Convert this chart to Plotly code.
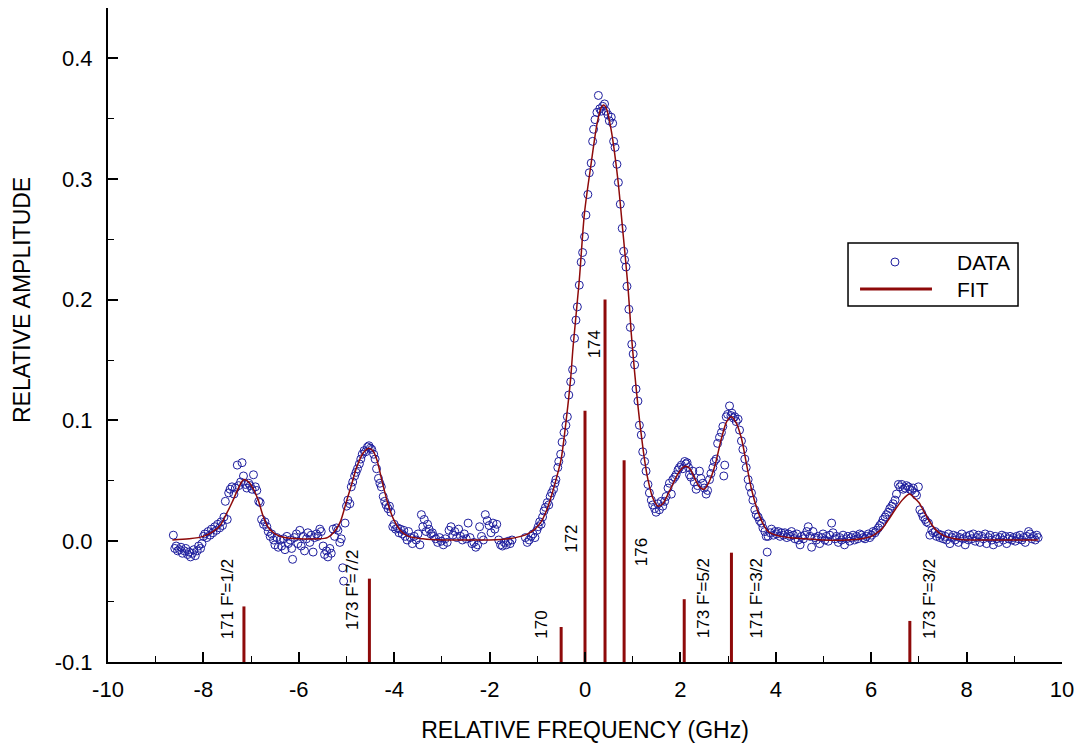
import plotly.graph_objects as go

# ---------------- data ----------------
data_freq = [
    -8.63, -8.60, -8.57, -8.54, -8.50, -8.47, -8.44, -8.40, -8.37, -8.33, -8.30, -8.27, -8.23, -8.20, -8.17, -8.13,
    -8.10, -8.06, -8.03, -8.00, -7.97, -7.93, -7.90, -7.86, -7.83, -7.80, -7.76, -7.73, -7.70, -7.66, -7.63, -7.60,
    -7.57, -7.54, -7.50, -7.47, -7.44, -7.40, -7.36, -7.33, -7.29, -7.26, -7.22, -7.19, -7.16, -7.12, -7.09, -7.05,
    -7.02, -6.98, -6.95, -6.91, -6.88, -6.84, -6.81, -6.78, -6.74, -6.71, -6.67, -6.64, -6.60, -6.57, -6.53, -6.50,
    -6.46, -6.43, -6.39, -6.36, -6.32, -6.29, -6.25, -6.22, -6.18, -6.15, -6.13, -6.09, -6.05, -6.02, -5.98, -5.95,
    -5.91, -5.88, -5.84, -5.81, -5.77, -5.74, -5.70, -5.67, -5.63, -5.60, -5.56, -5.53, -5.49, -5.46, -5.42, -5.39,
    -5.35, -5.32, -5.28, -5.25, -5.21, -5.18, -5.14, -5.11, -5.08, -5.06, -5.03, -5.00, -4.97, -4.93, -4.90, -4.87,
    -4.83, -4.80, -4.77, -4.73, -4.70, -4.67, -4.63, -4.60, -4.56, -4.53, -4.50, -4.47, -4.43, -4.40, -4.37, -4.33,
    -4.30, -4.27, -4.23, -4.20, -4.17, -4.13, -4.10, -4.07, -4.03, -4.00, -3.97, -3.93, -3.90, -3.87, -3.83, -3.80,
    -3.77, -3.73, -3.70, -3.66, -3.62, -3.58, -3.54, -3.50, -3.46, -3.43, -3.40, -3.37, -3.33, -3.30, -3.27, -3.23,
    -3.20, -3.17, -3.13, -3.09, -3.05, -3.01, -2.97, -2.93, -2.89, -2.85, -2.81, -2.77, -2.73, -2.69, -2.65, -2.61,
    -2.57, -2.53, -2.49, -2.45, -2.41, -2.37, -2.33, -2.29, -2.25, -2.21, -2.17, -2.13, -2.09, -2.05, -2.01, -1.97,
    -1.93, -1.89, -1.85, -1.81, -1.77, -1.73, -1.69, -1.65, -1.61, -1.57, -1.53,
    -1.25, -1.21, -1.17, -1.13, -1.09, -1.05, -1.01, -0.98, -0.95, -0.92, -0.89, -0.86, -0.83, -0.79, -0.76, -0.73,
    -0.70, -0.66, -0.63, -0.61, -0.57, -0.55, -0.51, -0.48, -0.44, -0.40, -0.37, -0.34, -0.30, -0.26, -0.22, -0.19,
    -0.16, -0.12, -0.08, -0.05, -0.01, 0.02, 0.06, 0.09, 0.13, 0.16, 0.18, 0.21, 0.25, 0.28, 0.31, 0.34,
    0.37, 0.41, 0.44, 0.48, 0.51, 0.55, 0.58, 0.60, 0.63, 0.67, 0.70, 0.74, 0.78, 0.81, 0.83, 0.86,
    0.88, 0.92, 0.95, 0.98, 1.01, 1.04, 1.07, 1.11, 1.14, 1.18, 1.21, 1.25, 1.28, 1.32, 1.35, 1.39,
    1.42, 1.46, 1.49, 1.53, 1.56, 1.60, 1.63, 1.67, 1.70, 1.74, 1.77, 1.81, 1.84, 1.88, 1.91, 1.95,
    1.98, 2.02, 2.05, 2.09, 2.12, 2.14, 2.17, 2.19, 2.22, 2.26, 2.29, 2.33, 2.36, 2.40, 2.43, 2.47,
    2.50, 2.54, 2.57, 2.61, 2.64, 2.68, 2.71, 2.75, 2.78, 2.82, 2.86, 2.89, 2.91, 2.93, 2.96, 2.99,
    3.03, 3.06, 3.08, 3.11, 3.14, 3.17, 3.21, 3.24, 3.28, 3.31, 3.35, 3.38, 3.42, 3.45, 3.49, 3.52,
    3.56, 3.59, 3.63, 3.66, 3.70, 3.73, 3.77, 3.80, 3.82, 3.84, 3.88, 3.91, 3.95, 3.98, 4.02, 4.05,
    4.09, 4.12, 4.16, 4.19, 4.23, 4.26, 4.30, 4.33, 4.37, 4.40, 4.44, 4.47, 4.51, 4.54, 4.58, 4.61,
    4.65, 4.68, 4.72, 4.75, 4.78, 4.82, 4.85, 4.89, 4.92, 4.96, 4.99, 5.03, 5.06, 5.10, 5.13, 5.17,
    5.20, 5.24, 5.27, 5.31, 5.34, 5.38, 5.41, 5.44, 5.48, 5.51, 5.55, 5.58, 5.62, 5.65, 5.69, 5.72,
    5.76, 5.80, 5.83, 5.87, 5.90, 5.94, 5.97, 6.01, 6.04, 6.08, 6.11, 6.15, 6.18, 6.22, 6.25, 6.29,
    6.32, 6.36, 6.39, 6.43, 6.46, 6.50, 6.53, 6.57, 6.60, 6.64, 6.67, 6.71, 6.74, 6.78, 6.81, 6.85,
    6.88, 6.92, 6.95, 6.99, 7.02, 7.06, 7.09, 7.13, 7.16, 7.20, 7.23, 7.27, 7.30, 7.34, 7.37, 7.41,
    7.44, 7.48, 7.51, 7.55, 7.58, 7.62, 7.65, 7.69, 7.72, 7.76, 7.79, 7.83, 7.86, 7.90, 7.93, 7.97,
    8.00, 8.04, 8.07, 8.11, 8.14, 8.18, 8.21, 8.25, 8.28, 8.32, 8.35, 8.39, 8.42, 8.46, 8.49, 8.53,
    8.56, 8.60, 8.63, 8.67, 8.70, 8.74, 8.77, 8.81, 8.84, 8.88, 8.91, 8.95, 8.98, 9.02, 9.05, 9.09,
    9.12, 9.16, 9.19, 9.23, 9.26, 9.30, 9.33, 9.37, 9.40, 9.44, 9.47, 9.50,
]
data_amp = [
    0.005, -0.006, -0.004, -0.008, -0.007, -0.005, -0.010, -0.008, -0.006, -0.011, -0.009, -0.013, -0.010, -0.007, -0.012, -0.008,
    -0.004, -0.006, -0.002, 0.004, 0.006, 0.003, 0.008, 0.005, 0.010, 0.007, 0.012, 0.009, 0.014, 0.011, 0.016, 0.013,
    0.020, 0.033, 0.018, 0.040, 0.043, 0.045, 0.039, 0.044, 0.063, 0.046, 0.049, 0.065, 0.054, 0.047, 0.044, 0.048,
    0.046, 0.043, 0.055, 0.045, 0.042, 0.033, 0.032, 0.018, 0.014, 0.016, 0.012, 0.008, 0.004, 0.006, 0.001, -0.003,
    0.003, -0.005, 0.001, -0.004, 0.002, -0.007, 0.004, -0.002, 0.001, -0.006, -0.015, 0.003, 0.006, -0.002, 0.009, -0.004,
    0.004, -0.008, 0.002, 0.007, -0.001, 0.005, -0.009, 0.003, 0.006, 0.004, 0.010, 0.008, -0.004, -0.011, -0.008, -0.013,
    -0.006, -0.010, 0.010, 0.004, 0.011, 0.009, -0.001, 0.002, -0.022, -0.033, 0.015, 0.029, 0.034, 0.031, 0.045, 0.049,
    0.054, 0.057, 0.060, 0.064, 0.068, 0.072, 0.075, 0.074, 0.078, 0.079, 0.077, 0.076, 0.072, 0.068, 0.060, 0.052,
    0.048, 0.045, 0.037, 0.033, 0.030, 0.027, 0.029, 0.024, 0.012, 0.014, 0.010, 0.011, 0.007, 0.010, 0.006, 0.009,
    0.004, 0.001, 0.008, 0.003, -0.002, 0.004, 0.001, 0.006, -0.003, 0.022, 0.012, 0.018, 0.008, 0.014, 0.010, 0.006,
    0.007, 0.004, 0.002, -0.001, 0.003, 0.000, -0.003, 0.002, -0.001, 0.009, 0.012, 0.005, 0.008, 0.003, 0.010, 0.004,
    0.001, 0.006, 0.002, 0.015, 0.003, -0.002, -0.001, -0.005, -0.003, 0.012, 0.004, 0.001, 0.022, 0.017, 0.013, 0.007,
    0.015, 0.010, 0.014, 0.001, -0.003, -0.004, -0.001, -0.003, 0.000, -0.002, 0.001,
    0.003, -0.001, 0.001, 0.004, 0.006, 0.003, 0.009, 0.012, 0.016, 0.014, 0.020, 0.025, 0.028, 0.032, 0.030, 0.037,
    0.040, 0.043, 0.048, 0.051, 0.061, 0.066, 0.072, 0.082, 0.090, 0.096, 0.103, 0.121, 0.132, 0.142, 0.168, 0.183,
    0.194, 0.212, 0.231, 0.239, 0.252, 0.270, 0.287, 0.305, 0.313, 0.331, 0.341, 0.349, 0.355, 0.369, 0.358, 0.356,
    0.360, 0.362, 0.356, 0.353, 0.348, 0.351, 0.346, 0.331, 0.326, 0.312, 0.297, 0.279, 0.259, 0.240, 0.233, 0.227,
    0.211, 0.192, 0.177, 0.163, 0.155, 0.146, 0.126, 0.116, 0.096, 0.088, 0.074, 0.066, 0.058, 0.047, 0.040, 0.034,
    0.030, 0.027, 0.024, 0.031, 0.026, 0.033, 0.029, 0.033, 0.037, 0.044, 0.048, 0.039, 0.051, 0.053, 0.055, 0.059,
    0.061, 0.063, 0.060, 0.066, 0.064, 0.065, 0.061, 0.055, 0.053, 0.058, 0.049, 0.043, 0.046, 0.058, 0.052, 0.048,
    0.044, 0.039, 0.042, 0.051, 0.056, 0.061, 0.066, 0.068, 0.081, 0.086, 0.090, 0.095, 0.054, 0.063, 0.103, 0.105,
    0.112, 0.104, 0.106, 0.102, 0.103, 0.099, 0.101, 0.092, 0.083, 0.076, 0.068, 0.061, 0.051, 0.045, 0.040, 0.034,
    0.026, 0.022, 0.020, 0.017, 0.015, 0.011, 0.008, 0.004, -0.009, 0.004, 0.007, 0.010, 0.005, 0.008, 0.006, 0.008,
    0.004, 0.007, 0.005, 0.007, 0.003, 0.006, 0.004, 0.008, 0.005, 0.002, 0.006, 0.001, -0.003, 0.004, 0.002, 0.005,
    0.008, 0.012, 0.004, -0.005, 0.008, 0.003, 0.001, 0.004, -0.002, 0.003, 0.006, 0.001, 0.004, 0.000, 0.005, 0.015,
    0.007, 0.002, 0.004, -0.001, 0.003, 0.001, 0.005, -0.003, 0.002, 0.004, 0.000, 0.003, 0.005, 0.001, 0.004, 0.002,
    0.006, 0.005, 0.003, 0.002, 0.004, 0.006, 0.003, 0.005, 0.008, 0.007, 0.009, 0.011, 0.013, 0.015, 0.018, 0.020,
    0.022, 0.024, 0.027, 0.029, 0.031, 0.034, 0.039, 0.047, 0.045, 0.047, 0.043, 0.044, 0.046, 0.045, 0.043, 0.042,
    0.044, 0.040, 0.038, 0.045, 0.026, 0.023, 0.020, 0.018, 0.016, 0.015, 0.005, 0.009, 0.007, 0.008, 0.004, 0.006,
    0.003, 0.005, 0.002, 0.004, 0.001, 0.006, -0.002, 0.003, 0.005, 0.001, 0.004, -0.001, 0.003, 0.006, 0.002, -0.003,
    0.004, 0.001, 0.005, 0.002, 0.006, 0.000, 0.003, 0.005, -0.001, 0.004, 0.002, 0.006, -0.002, 0.003, 0.005, 0.001,
    -0.003, 0.004, 0.002, -0.001, 0.003, 0.005, 0.001, 0.004, -0.002, 0.002, 0.004, 0.001, 0.003, 0.000, 0.004, 0.002,
    0.005, 0.001, 0.003, -0.001, 0.004, 0.008, 0.006, 0.002, 0.004, 0.001, 0.005, 0.003,
]

fit_freq = [
    -8.65, -8.3, -8.0, -7.8, -7.65, -7.5, -7.4, -7.3, -7.2, -7.15, -7.05, -6.95, -6.85, -6.75, -6.65, -6.5,
    -6.3, -6.0, -5.6, -5.4, -5.25, -5.13, -5.0, -4.9, -4.78, -4.65, -4.53, -4.45, -4.36, -4.28, -4.2, -4.1,
    -4.0, -3.85, -3.7, -3.4, -3.0, -2.5, -2.0, -1.6, -1.35, -1.2, -1.05, -0.92, -0.8, -0.7, -0.6, -0.5,
    -0.44, -0.36, -0.3, -0.25, -0.12, -0.01, 0.13, 0.25, 0.33, 0.39, 0.45, 0.55, 0.69, 0.79, 0.90, 0.97,
    1.04, 1.11, 1.18, 1.25, 1.32, 1.42, 1.53, 1.63, 1.74, 1.85, 1.95, 2.05, 2.12, 2.2, 2.3, 2.4,
    2.5, 2.6, 2.72, 2.86, 2.97, 3.07, 3.17, 3.28, 3.38, 3.49, 3.63, 3.75, 3.84, 4.0, 4.26, 4.6,
    5.0, 5.5, 5.8, 6.0, 6.12, 6.22, 6.35, 6.5, 6.65, 6.75, 6.81, 6.9, 7.0, 7.06, 7.2, 7.34,
    7.5, 7.75, 8.0, 8.5, 9.0, 9.5,
]
fit_amp = [
    0.001, 0.002, 0.004, 0.008, 0.013, 0.024, 0.032, 0.041, 0.049, 0.051, 0.049, 0.043, 0.034, 0.021, 0.012, 0.006,
    0.003, 0.002, 0.002, 0.003, 0.008, 0.016, 0.033, 0.046, 0.062, 0.073, 0.077, 0.075, 0.067, 0.054, 0.041, 0.027,
    0.017, 0.008, 0.004, 0.002, 0.001, 0.001, 0.001, 0.002, 0.004, 0.006, 0.010, 0.016, 0.026, 0.038, 0.052, 0.068,
    0.085, 0.112, 0.135, 0.161, 0.216, 0.272, 0.313, 0.345, 0.358, 0.361, 0.358, 0.340, 0.299, 0.258, 0.211, 0.172,
    0.140, 0.112, 0.088, 0.067, 0.051, 0.036, 0.029, 0.031, 0.039, 0.048, 0.056, 0.061, 0.062, 0.060, 0.052, 0.045,
    0.043, 0.049, 0.062, 0.085, 0.099, 0.103, 0.098, 0.085, 0.065, 0.043, 0.024, 0.013, 0.008, 0.005, 0.003, 0.002,
    0.001, 0.001, 0.002, 0.004, 0.007, 0.010, 0.017, 0.026, 0.034, 0.038, 0.039, 0.036, 0.032, 0.028, 0.018, 0.010,
    0.005, 0.002, 0.001, 0.001, 0.001, 0.001,
]

line_freq = [-7.15, -4.52, -0.50, 0.0, 0.42, 0.82, 2.08, 3.07, 6.81]
line_amp = [-0.054, -0.031, -0.071, 0.108, 0.200, 0.067, -0.048, -0.0095, -0.066]
line_labels = ["171 F'=1/2", "173 F'=7/2", "170", "172", "174", "176", "173 F'=5/2", "171 F'=3/2", "173 F'=3/2"]
stick_base = -0.1

x_tick_vals = [-10, -8, -6, -4, -2, 0, 2, 4, 6, 8, 10]
x_tick_text = ["-10", "-8", "-6", "-4", "-2", "0", "2", "4", "6", "8", "10"]
y_tick_vals = [-0.1, 0.0, 0.1, 0.2, 0.3, 0.4]
y_tick_text = ["-0.1", "0.0", "0.1", "0.2", "0.3", "0.4"]

# ---------------- styles ----------------
FONT = "Liberation Sans, Arial, sans-serif"
DATA_COLOR = "#1e1e9e"
FIT_COLOR = "#8e0a0a"

# label placement (pixel shifts from the stick, and vertical centre in data units)
label_xshift = [-17, -17, -20, -13, -11, 17, 20, 26, 19]
label_y = [-0.048, -0.040, -0.069, 0.002, 0.163, -0.009, -0.047, -0.047, -0.048]

stick_x, stick_y = [], []
for f, a in zip(line_freq, line_amp):
    stick_x += [f, f, None]
    stick_y += [stick_base, a, None]

fig = go.Figure()
fig.add_trace(go.Scatter(x=stick_x, y=stick_y, mode="lines",
                         line=dict(color=FIT_COLOR, width=3), showlegend=False, hoverinfo="skip"))
fig.add_trace(go.Scatter(x=data_freq, y=data_amp, mode="markers", name="DATA",
                         marker=dict(symbol="circle-open", size=8, color=DATA_COLOR,
                                     line=dict(width=1, color=DATA_COLOR)),
                         showlegend=False))
fig.add_trace(go.Scatter(x=fit_freq, y=fit_amp, mode="lines", name="FIT",
                         line=dict(color=FIT_COLOR, width=1.5, shape="spline", smoothing=0.8),
                         showlegend=False))

for f, lab, dx, ly in zip(line_freq, line_labels, label_xshift, label_y):
    fig.add_annotation(x=f, y=ly, xref="x", yref="y", text=lab, showarrow=False,
                       textangle=-90, xshift=dx, xanchor="center", yanchor="middle",
                       font=dict(family=FONT, size=17, color="black"))

# custom legend box
fig.add_shape(type="rect", xref="paper", yref="paper", x0=0.7757, x1=0.9539, y0=0.5443, y1=0.6407,
              line=dict(color="black", width=1.5), fillcolor="white", layer="above")
fig.add_shape(type="circle", xref="paper", yref="paper", xsizemode="pixel", ysizemode="pixel",
              xanchor=0.8249, yanchor=0.6116, x0=-4, x1=4, y0=-4, y1=4,
              line=dict(color=DATA_COLOR, width=1), layer="above")
fig.add_shape(type="line", xref="paper", yref="paper", x0=0.7883, x1=0.8637, y0=0.5703, y1=0.5703,
              line=dict(color=FIT_COLOR, width=3), layer="above")
fig.add_annotation(x=0.8878, y=0.6116, xref="paper", yref="paper", text="DATA", showarrow=False,
                   xanchor="left", yanchor="middle", font=dict(family=FONT, size=21, color="black"))
fig.add_annotation(x=0.8878, y=0.5703, xref="paper", yref="paper", text="FIT", showarrow=False,
                   xanchor="left", yanchor="middle", font=dict(family=FONT, size=21, color="black"))

# y-axis title (placed slightly above the plot centre, as in the original)
fig.add_annotation(x=-0.0901, y=0.5535, xref="paper", yref="paper", text="RELATIVE AMPLITUDE",
                   showarrow=False, textangle=-90, xanchor="center", yanchor="middle",
                   font=dict(family=FONT, size=23, color="black"))

axis_common = dict(showline=True, linecolor="black", linewidth=2, showgrid=False, zeroline=False,
                   ticks="inside", tickcolor="black", tickwidth=1.5, ticklen=10, mirror=False,
                   automargin=False,
                   tickfont=dict(family=FONT, size=22, color="black"))
fig.update_xaxes(range=[-10, 10], tickvals=x_tick_vals, ticktext=x_tick_text,
                 minor=dict(ticks="inside", dtick=1, ticklen=6, tickcolor="black", tickwidth=1),
                 ticklabelstandoff=7,
                 title=dict(text="RELATIVE FREQUENCY (GHz)", font=dict(family=FONT, size=23, color="black"),
                            standoff=20),
                 **axis_common)
fig.update_yaxes(range=[-0.1, 0.4414], tickvals=y_tick_vals, ticktext=y_tick_text,
                 minor=dict(ticks="inside", dtick=0.05, tick0=0, ticklen=6, tickcolor="black", tickwidth=1),
                 ticklabelstandoff=9,
                 **axis_common)
fig.update_layout(width=1078, height=744, margin=dict(l=108, r=16, t=8, b=82),
                  plot_bgcolor="white", paper_bgcolor="white", showlegend=False)
fig.write_html("out.html")
